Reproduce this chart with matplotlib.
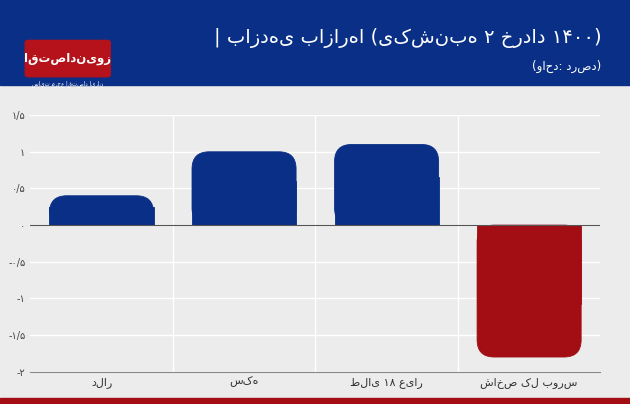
import matplotlib
matplotlib.use("Agg")
import matplotlib.pyplot as plt
from matplotlib.patches import FancyBboxPatch, Rectangle
import numpy as np

categories = ["دلار", "سکه", "طلای ۱۸ عیار", "شاخص کل بورس"]
values = [0.4, 1.0, 1.1, -1.8]
yticks = [1.5, 1, 0.5, 0, -0.5, -1, -1.5, -2]
ytick_labels = ["۱/۵", "۱", "۰/۵", "۰", "-۰/۵", "-۱", "-۱/۵", "-۲"]
colors = ["#0a2f86", "#0a2f86", "#0a2f86", "#a30d14"]
title = "| بازدهی بازارها (یکشنبه ۲ خرداد ۱۴۰۰)"
unit = "(واحد: درصد)"

plt.rcParams['font.family'] = ['DejaVu Sans']
fig = plt.figure(figsize=(6.3, 4.04), dpi=100)
fig.patch.set_facecolor("#ececec")
fig.add_artist(Rectangle((0, 0.79), 1, 0.21, transform=fig.transFigure, color="#0a2f86", zorder=0))
fig.add_artist(Rectangle((0, 0), 1, 0.015, transform=fig.transFigure, color="#a30d14", zorder=0))
fig.add_artist(FancyBboxPatch((0.045, 0.815), 0.125, 0.08, boxstyle="round,pad=0.005",
                              transform=fig.transFigure, color="#b5121b", zorder=1))
fig.text(0.107, 0.856, "اقتصادنیوز", color="white", ha="center", va="center", fontsize=8.5, weight="bold")
fig.text(0.107, 0.793, "سایت مرجع اقتصاد ایران", color="white", ha="center", va="center", fontsize=4)
fig.text(0.955, 0.905, title, color="white", ha="right", va="center", fontsize=14)
fig.text(0.955, 0.835, unit, color="white", ha="right", va="center", fontsize=8.5)

ax = fig.add_axes([0.048, 0.08, 0.905, 0.635])
ax.set_facecolor("#ececec")
x = np.arange(len(categories))
w = 0.73
bars = ax.bar(x, values, width=w, alpha=0)
ax.set_xlim(-0.5, 3.5)
ax.set_ylim(-2, 1.5)
r = 0.12
asp = 1.95
for b, c in zip(bars, colors):
    x0, h = b.get_x(), b.get_height()
    y0 = min(0, h)
    ax.add_patch(FancyBboxPatch((x0, y0), w, abs(h), boxstyle=f"round,pad=0,rounding_size={r}",
                                mutation_aspect=asp, facecolor=c, edgecolor=c, lw=0.6, zorder=3))
    ax.add_patch(Rectangle((x0, 0), w, h * 0.6, facecolor=c, edgecolor=c, lw=0.6, zorder=3))
for xv in [0.5, 1.5, 2.5]:
    ax.axvline(xv, color="white", lw=1, zorder=1)
for yv in yticks:
    ax.axhline(yv, color="white", lw=1, zorder=1)
ax.axhline(0, color="#555555", lw=0.8, zorder=4)
ax.set_yticks(yticks)
ax.set_yticklabels(ytick_labels, fontsize=7, color="#444444")
ax.set_xticks(x)
ax.set_xticklabels(categories, fontsize=8, color="#333333")
ax.tick_params(length=0)
for s in ax.spines.values():
    s.set_visible(False)
ax.spines['bottom'].set_visible(True)
ax.spines['bottom'].set_color("#888888")
fig.savefig("out.png", dpi=100, facecolor=fig.get_facecolor())
